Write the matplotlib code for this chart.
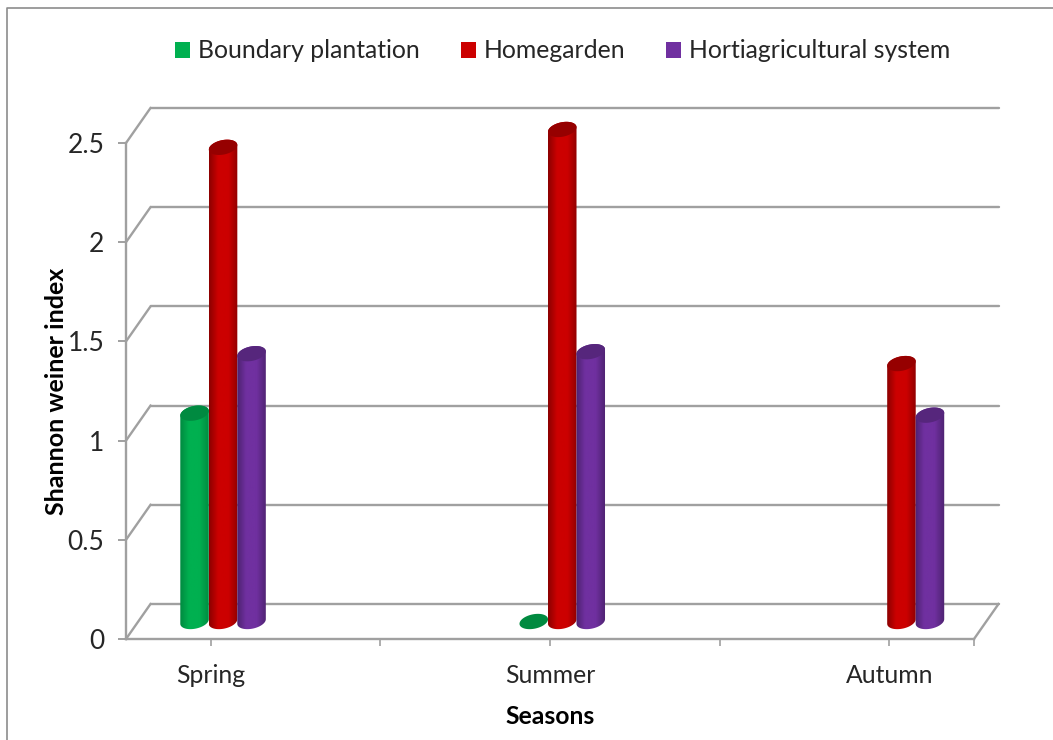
#!/usr/bin/env python3
"""Shannon weiner index by season, drawn as a 3D-style cylinder chart."""

import numpy as np
import matplotlib
matplotlib.use('Agg')
import matplotlib.pyplot as plt
from matplotlib.lines import Line2D
from matplotlib.patches import Patch, PathPatch, Polygon
from matplotlib.path import Path
from matplotlib.colors import LinearSegmentedColormap

plt.rcParams['font.family'] = ['Lato', 'DejaVu Sans']

seasons = ['Spring', 'Summer', 'Autumn']
series_names = ['Boundary plantation', 'Homegarden', 'Hortiagricultural system']
boundary = [1.05, 0.0, None]
homegarden = [2.39, 2.48, 1.30]
hortiagri = [1.35, 1.36, 1.04]
y_ticks = [0, 0.5, 1, 1.5, 2, 2.5]
y_labels = ['0', '0.5', '1', '1.5', '2', '2.5']

# edge, mid, top-cap colours for each cylinder
green = ('#008a40', '#00b050', '#008a40')
red = ('#8c0000', '#cc0000', '#960000')
purple = ('#4d2270', '#7030a0', '#56267c')

W, H = 1053, 740
AX_LEFT, AX_RIGHT, AX_BOTTOM, AX_TOP = 126, 974, 639, 143
GRID = '#a0a0a0'
TEXT = '#262626'

# cylinder ellipse, in pixels
ELL_A, ELL_B, ELL_TILT = 14.5, 7.2, np.radians(12)

fig = plt.figure(figsize=(W / 100, H / 100), dpi=100)
ax = fig.add_axes([AX_LEFT / W, 1 - AX_BOTTOM / H,
                   (AX_RIGHT - AX_LEFT) / W, (AX_BOTTOM - AX_TOP) / H])
ax.set_xlim(-0.5, 4.5)
ax.set_ylim(0, 2.5)

# pixel size of one data unit, used for depth and the cylinder ellipses
ux = (AX_RIGHT - AX_LEFT) / 5
uy = (AX_BOTTOM - AX_TOP) / 2.5
depth_x = 24.5 / ux
depth_y = 35 / uy
bar_w = 28.5 / ux


def ellipse(cx, cy, t):
    px = ELL_A * np.cos(t) * np.cos(ELL_TILT) - ELL_B * np.sin(t) * np.sin(ELL_TILT)
    py = ELL_A * np.cos(t) * np.sin(ELL_TILT) + ELL_B * np.sin(t) * np.cos(ELL_TILT)
    return cx + px / ux, cy + py / uy


def draw_cylinder(x, value, colors, z):
    edge, mid, cap = colors
    cx = x + depth_x / 2
    y0 = depth_y / 2
    y1 = value + depth_y / 2
    t_r = np.arctan2(-ELL_B * np.sin(ELL_TILT), ELL_A * np.cos(ELL_TILT))
    circle = np.linspace(0, 2 * np.pi, 80)
    if value > 0:
        low = np.linspace(t_r + np.pi, t_r + 2 * np.pi, 40)
        high = np.linspace(t_r, t_r + np.pi, 40)
        bx, by = ellipse(cx, y0, low)
        tx, ty = ellipse(cx, y1, high)
        outline = np.column_stack([np.r_[bx, tx], np.r_[by, ty]])
        body = PathPatch(Path(np.vstack([outline, outline[0]]), closed=True),
                         transform=ax.transData, facecolor='none', edgecolor='none')
        ax.add_patch(body)
        cmap = LinearSegmentedColormap.from_list('cyl', [
            (0, edge), (0.3, mid), (0.65, mid), (1, edge)])
        img = ax.imshow(np.linspace(0, 1, 64).reshape(1, -1), cmap=cmap, aspect='auto',
                        extent=[cx - 0.5 * bar_w * 1.02, cx + 0.5 * bar_w * 1.02, 0, y1 + 0.1],
                        zorder=z)
        # tall cylinders run past the top of the axes box into the depth area
        img.set_clip_box(fig.bbox)
        img.set_clip_path(body)
    ex, ey = ellipse(cx, y1, circle)
    ax.add_patch(Polygon(np.column_stack([ex, ey]), closed=True, facecolor=cap,
                         edgecolor='none', zorder=z + 0.5, clip_on=False))


# back wall gridlines and the slanted left wall / floor edges
for tick in y_ticks:
    ax.plot([-0.5 + depth_x, 4.5 + depth_x], [tick + depth_y] * 2, color=GRID, lw=1.7,
            clip_on=False, zorder=1, solid_capstyle='round')
    ax.plot([-0.5, -0.5 + depth_x], [tick, tick + depth_y], color=GRID, lw=1.7,
            clip_on=False, zorder=1)
ax.plot([4.5, 4.5 + depth_x], [0, depth_y], color=GRID, lw=1.7, clip_on=False, zorder=1)

groups = [boundary, homegarden, hortiagri]
styles = [green, red, purple]
for i, season in enumerate(seasons):
    pos = i * 2
    for j in range(3):
        val = groups[j][i]
        if val is None:
            continue
        draw_cylinder(pos + (j - 1) * bar_w, val, styles[j], 5 + j)

ax.set_xlim(-0.5, 4.5)
ax.set_ylim(0, 2.5)

ax.patch.set_alpha(0)
for side in ['top', 'right']:
    ax.spines[side].set_visible(False)
for side in ['left', 'bottom']:
    ax.spines[side].set_color(GRID)
    ax.spines[side].set_linewidth(1.7)

ax.set_yticks(y_ticks)
ax.set_yticklabels(y_labels)
ax.set_xticks([0, 2, 4])
ax.set_xticklabels(seasons)
ax.set_xticks([1, 3, 4.5], minor=True)
ax.tick_params(axis='y', length=6, width=1.4, color=GRID, labelsize=19, labelcolor=TEXT, pad=9.5)
ax.tick_params(axis='x', which='major', length=5, width=1.2, color=GRID, labelsize=17.8,
               labelcolor=TEXT, pad=13)
ax.tick_params(axis='x', which='minor', length=5, width=1.2, color=GRID)

ax.set_xlabel('Seasons', fontsize=17.8, fontweight='bold', color='black', labelpad=13)
ax.set_ylabel('Shannon weiner index', fontsize=18, fontweight='bold', color='black', labelpad=-0.5)

handles = [Patch(facecolor=c[1], edgecolor='none') for c in styles]
fig.legend(handles, series_names, loc='center', bbox_to_anchor=(563 / W, 1 - 51 / H), ncol=3,
           frameon=False, fontsize=17.8, labelcolor=TEXT, handlelength=0.6, handleheight=0.6,
           handletextpad=0.33, columnspacing=1.65)

# chart frame, only the left and top edges are visible
fig.add_artist(Line2D([6.5 / W, 6.5 / W, 1], [0, 1 - 8 / H, 1 - 8 / H],
                      transform=fig.transFigure, color='#8c8c8c', lw=1.2))

plt.savefig('out.png', dpi=100)
